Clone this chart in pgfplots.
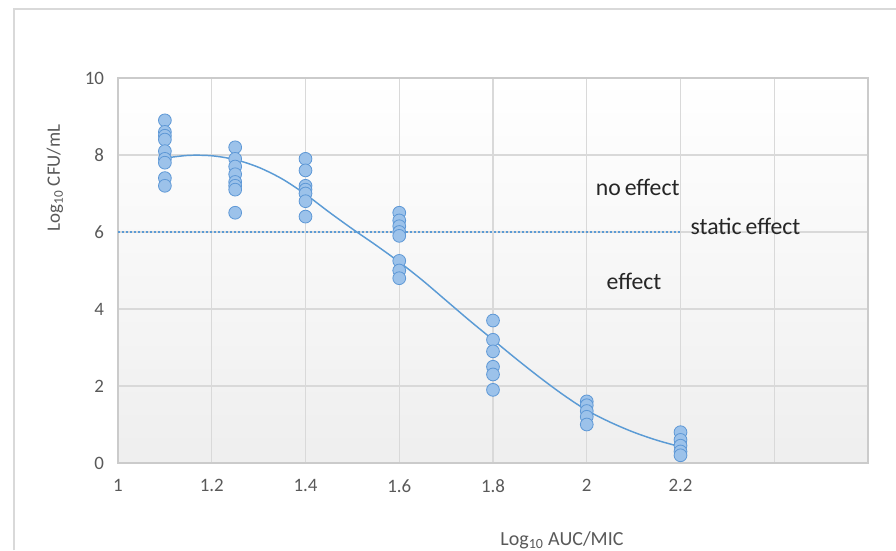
\documentclass[border=0pt]{standalone}
\usepackage{pgfplots}
\pgfplotsset{compat=1.18}
\usepackage{fontspec}
\setmainfont{Carlito}
\definecolor{ptfill}{HTML}{9CC2EA}
\definecolor{ptedge}{HTML}{5E98D6}
\definecolor{fitline}{HTML}{5B9BD5}
\definecolor{gridc}{HTML}{D9D9D9}
\definecolor{labc}{HTML}{595959}
\definecolor{framec}{HTML}{D9D9D9}

\begin{document}
\begin{tikzpicture}[x=0.75pt,y=0.75pt]
% picture in pixel units (896 x 550)
\useasboundingbox (0,0) rectangle (896,550);
\draw[framec, line width=1.2pt] (14,0) -- (14,541) -- (896,541);

\begin{axis}[
    at={(88.5pt,65.25pt)}, anchor=south west,
    scale only axis,
    width=562.5pt, height=288.75pt,
    xmin=1, xmax=2.6, ymin=0, ymax=10,
    xtick={1,1.2,1.4,1.6,1.8,2,2.2,2.4,2.6},
    xticklabels={1,1.2,1.4,1.6,1.8,2,2.2,{},{}},
    ytick={0,2,4,6,8,10},
    major tick length=0pt,
    grid=major,
    grid style={gridc, line width=0.9pt},
    axis line style={gridc!85!gray, line width=1.2pt},
    axis background/.style={shade, top color=white, bottom color=gray!13},
    tick label style={labc, font=\fontsize{14.2}{16}\selectfont},
    /pgf/number format/assume math mode=true,
    yticklabel style={xshift=-7pt},
    xticklabel style={yshift=-9pt},
    clip=false,
]
% fitted sigmoid curve
\addplot[fitline, line width=1.1pt, smooth, no marks] coordinates {
(1.1,7.92) (1.15,7.99) (1.2,7.98) (1.25,7.88) (1.3,7.68) (1.35,7.38)
(1.4,6.98) (1.45,6.52) (1.5,6.08) (1.55,5.66) (1.6,5.22) (1.65,4.74)
(1.7,4.22) (1.75,3.7) (1.8,3.2) (1.85,2.7) (1.9,2.22) (1.95,1.77)
(2.0,1.37) (2.05,1.06) (2.1,0.8) (2.15,0.59) (2.2,0.42)};
% static effect threshold
\addplot[fitline, line width=1.5pt, dash pattern=on 1.5pt off 1.5pt, no marks] coordinates {(1,6) (2.2,6)};
% observations
\addplot[only marks, mark=*, mark size=4.8pt,
  mark options={fill=ptfill, draw=ptedge, line width=0.6pt}] coordinates {
(1.1,8.9) (1.1,8.6) (1.1,8.5) (1.1,8.4) (1.1,8.1) (1.1,7.9) (1.1,7.8) (1.1,7.4) (1.1,7.2)
(1.25,8.2) (1.25,7.9) (1.25,7.7) (1.25,7.5) (1.25,7.3) (1.25,7.2) (1.25,7.1) (1.25,6.5)
(1.4,7.9) (1.4,7.6) (1.4,7.2) (1.4,7.1) (1.4,7.0) (1.4,6.8) (1.4,6.4)
(1.6,6.5) (1.6,6.3) (1.6,6.15) (1.6,6.0) (1.6,5.9) (1.6,5.25) (1.6,5.0) (1.6,4.8)
(1.8,3.7) (1.8,3.2) (1.8,2.9) (1.8,2.5) (1.8,2.3) (1.8,1.9)
(2.0,1.6) (2.0,1.5) (2.0,1.35) (2.0,1.2) (2.0,1.0)
(2.2,0.8) (2.2,0.6) (2.2,0.45) (2.2,0.3) (2.2,0.2)};
\node[anchor=west, inner sep=0pt, text=black!85, font=\fontsize{17.8}{19}\selectfont] at (axis cs:2.019,7.17) {no\,effect};
\node[anchor=west, inner sep=0pt, text=black!85, font=\fontsize{17.8}{19}\selectfont] at (axis cs:2.221,6.14) {static\,effect};
\node[anchor=west, inner sep=0pt, text=black!85, font=\fontsize{17.8}{19}\selectfont] at (axis cs:2.042,4.71) {effect};
\end{axis}

\node[rotate=90, text=labc, font=\fontsize{14.2}{16}\selectfont] at (55,372) {Log\textsubscript{10} CFU/mL};
\node[text=labc, font=\fontsize{15}{17}\selectfont] at (562,10) {Log\textsubscript{10} AUC/MIC};
\end{tikzpicture}
\end{document}
